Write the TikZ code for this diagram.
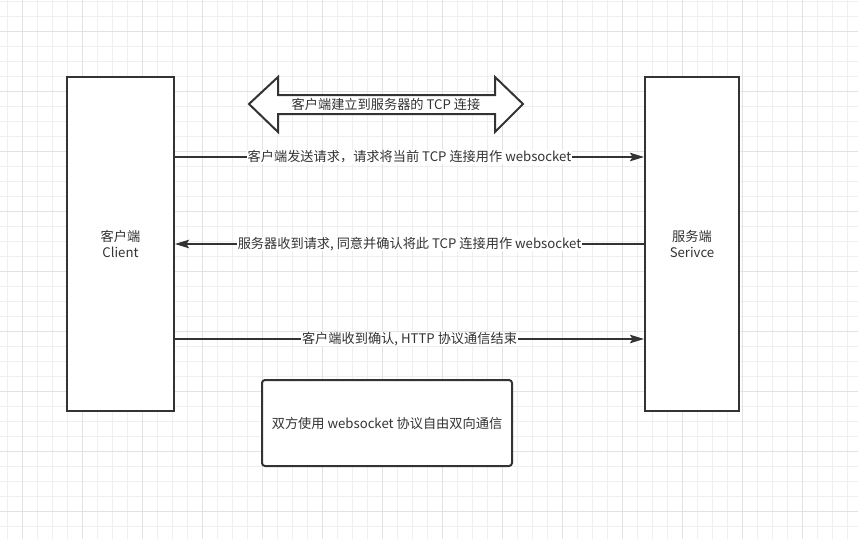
\documentclass[tikz,border=0pt]{standalone}
\usepackage{fontspec}
\setmainfont{Noto Sans CJK SC}
\usetikzlibrary{arrows.meta}
\definecolor{ink}{HTML}{333333}
\definecolor{gridminor}{HTML}{EFEFEF}
\definecolor{gridmajor}{HTML}{E2E2E2}
\begin{document}
\begin{tikzpicture}[x=1pt,y=-1pt,
  every node/.style={font=\fontsize{13.2}{16}\selectfont, text=ink},
  party/.style={draw=ink, line width=2pt, fill=white, align=center, inner sep=0pt},
  msg/.style={draw=ink, line width=1.3pt, -{Stealth[length=14pt,width=8.5pt,inset=2.5pt]}},
  lbl/.style={fill=white, inner sep=0.6pt},
  note/.style={draw=ink, line width=2pt, fill=white, rounded corners=3pt, inner sep=0pt}]
\useasboundingbox (0,0) rectangle (858,539);
\fill[white] (0,0) rectangle (858,539);
% grid
\foreach \x in {7,22,...,858} \draw[gridminor, line width=0.9pt] (\x,0) -- (\x,539);
\foreach \y in {1,16,...,539} \draw[gridminor, line width=0.9pt] (0,\y) -- (858,\y);
\foreach \x in {22,82,...,858} \draw[gridmajor, line width=0.9pt] (\x,0) -- (\x,539);
\foreach \y in {31,91,...,539} \draw[gridmajor, line width=0.9pt] (0,\y) -- (858,\y);

\node[party, minimum width=107pt, minimum height=334pt] (client) at (120.5,244) {客户端\\Client};
\node[party, minimum width=94pt, minimum height=334pt] (server) at (692,244) {服务端\\Serivce};

% double arrow
\draw[draw=ink, line width=2pt, fill=white, line join=miter]
  (249,104) -- (278,77) -- (278,95) -- (495,95) -- (495,77) -- (523,104)
  -- (495,132) -- (495,114) -- (278,114) -- (278,132) -- cycle;
\node (tcp) at (386,104.5) {客户端建立到服务器的 TCP 连接};

\coordinate (y1) at (0,157);
\coordinate (y2) at (0,244);
\coordinate (y3) at (0,339);
\draw[msg] (client.east |- y1) -- (server.west |- y1)
  node[midway, lbl] (m1) {客户端发送请求，请求将当前 TCP 连接用作 websocket};
\draw[msg] (server.west |- y2) -- (client.east |- y2)
  node[midway, lbl] (m2) {服务器收到请求, 同意并确认将此 TCP 连接用作 websocket};
\draw[msg] (client.east |- y3) -- (server.west |- y3)
  node[midway, lbl] (m3) {客户端收到确认, HTTP 协议通信结束};

\node[note, minimum width=250pt, minimum height=86pt] (both) at (387,423) {双方使用 websocket 协议自由双向通信};
\end{tikzpicture}
\end{document}
